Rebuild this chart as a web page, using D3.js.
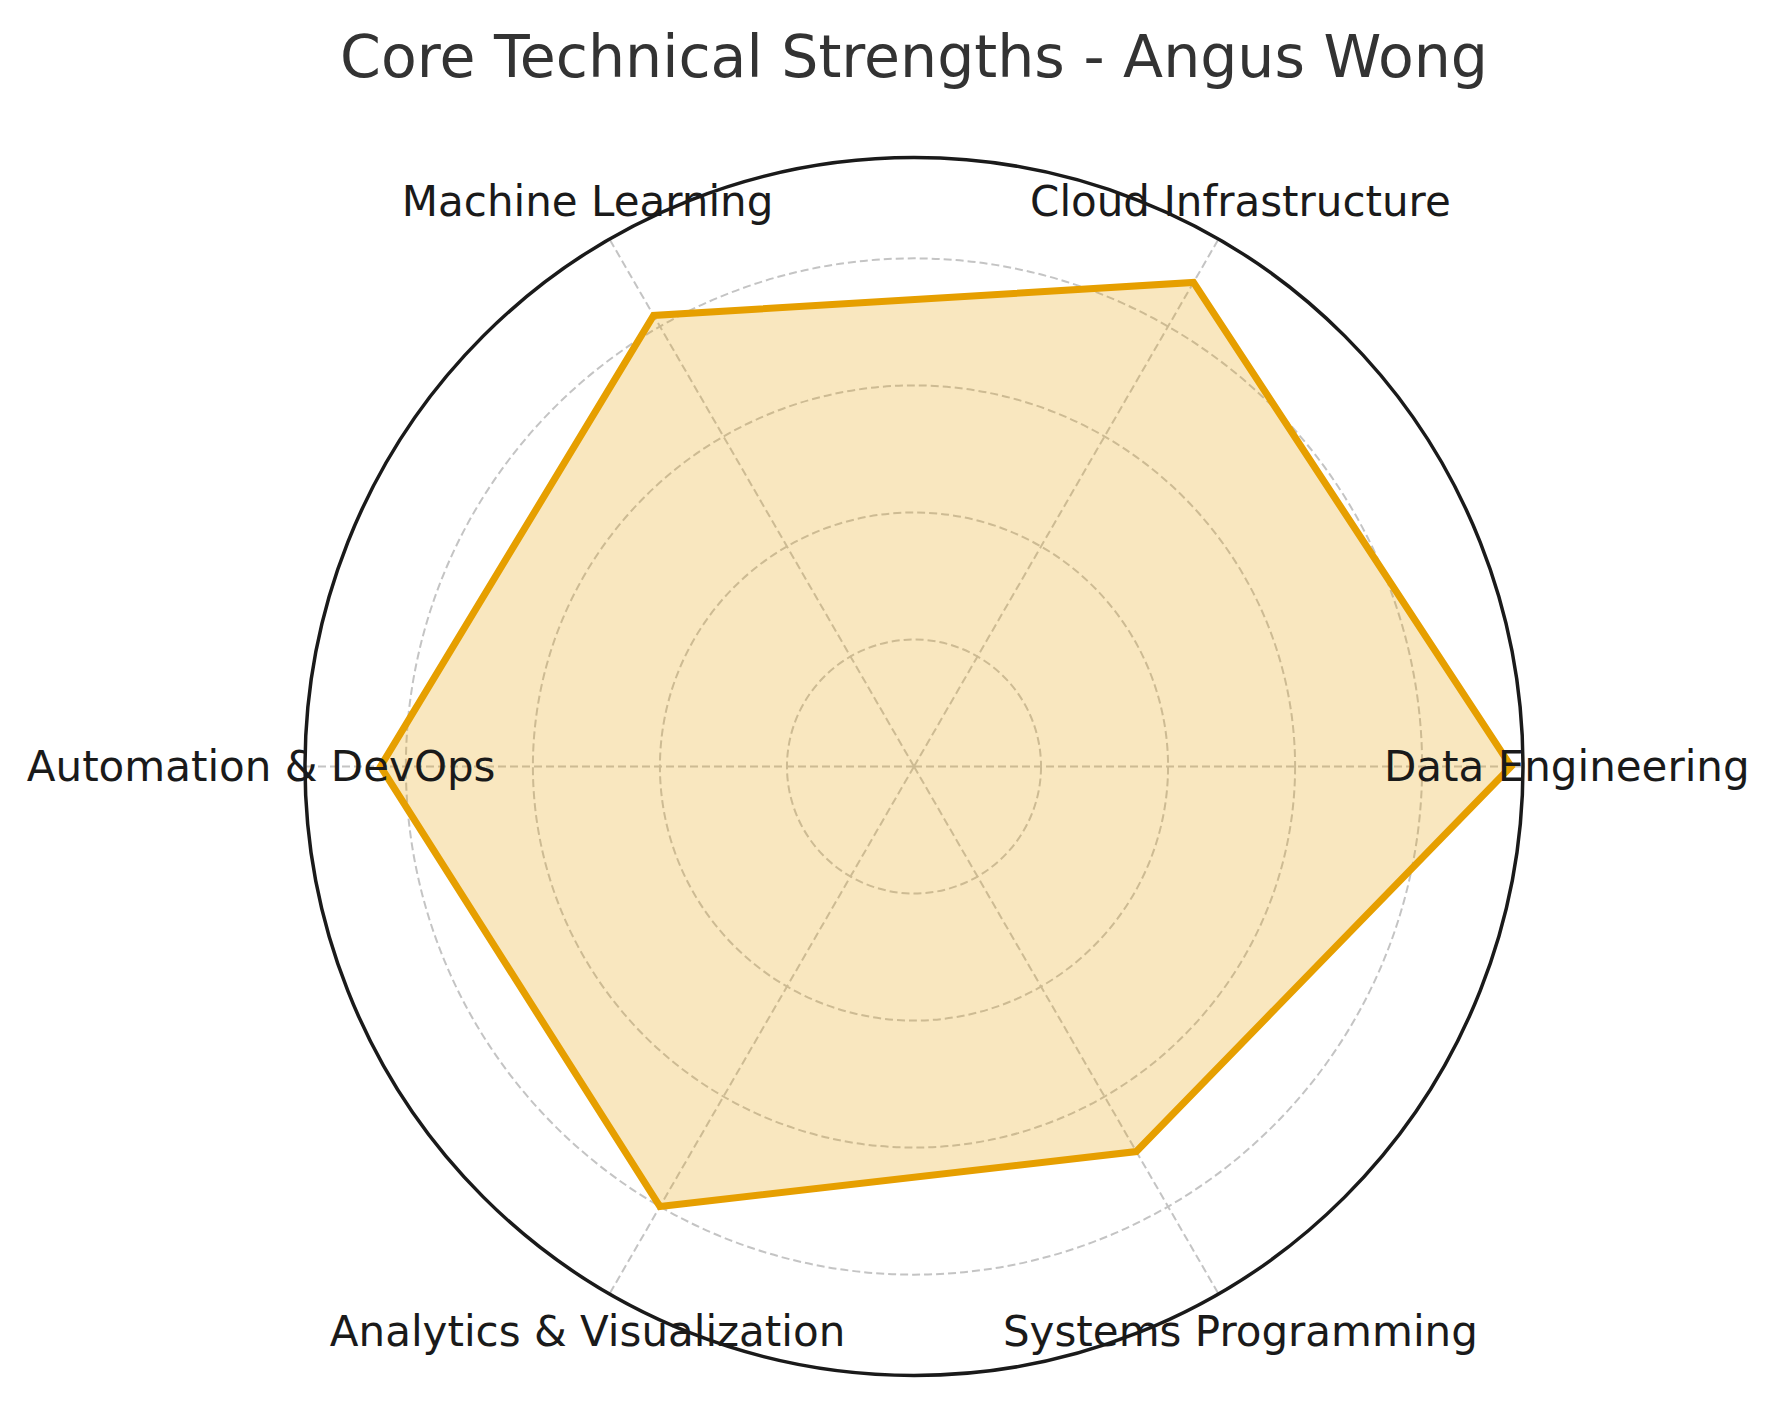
<!DOCTYPE html>
<html>
<head>
<meta charset="utf-8">
<script src="https://cdn.jsdelivr.net/npm/d3@7"></script>
<style>
html, body { margin: 0; padding: 0; background: #fff; }
svg { display: block; font-family: "DejaVu Sans", sans-serif; }
</style>
</head>
<body>
<svg id="chart" width="1778" height="1406"></svg>
<script>
const categories = ["Data Engineering", "Cloud Infrastructure", "Machine Learning", "Automation & DevOps", "Analytics & Visualization", "Systems Programming"];
const values = [4.7, 4.4, 4.1, 4.2, 4.0, 3.5];
const gridTicks = [1, 2, 3, 4];
const title = "Core Technical Strengths - Angus Wong";

const W = 1778, H = 1406;
const cx = 914, cy = 766.5, R = 609;
const rMax = d3.max(values) * 1.02;

const svg = d3.select("#chart");
const r = d3.scaleLinear().domain([0, rMax]).range([0, R]);
// angle: categories evenly spaced, counter-clockwise starting at 3 o'clock
const theta = d3.scaleLinear().domain([0, categories.length]).range([0, 2 * Math.PI]);
// lineRadial angle measured clockwise from 12 o'clock
const radialAngle = i => Math.PI / 2 - theta(i);

const g = svg.append("g").attr("transform", `translate(${cx},${cy})`);

// grid circles
g.selectAll("circle.grid").data(gridTicks).enter().append("circle")
  .attr("class", "grid")
  .attr("r", d => r(d))
  .attr("fill", "none")
  .attr("stroke", "#c4c4c4")
  .attr("stroke-width", 2)
  .attr("stroke-dasharray", "8,4");

// spokes
g.selectAll("line.spoke").data(categories).enter().append("line")
  .attr("x1", 0).attr("y1", 0)
  .attr("x2", (d, i) => R * Math.cos(theta(i)))
  .attr("y2", (d, i) => -R * Math.sin(theta(i)))
  .attr("stroke", "#c4c4c4")
  .attr("stroke-width", 2)
  .attr("stroke-dasharray", "8,4");

// data polygon
const radar = d3.lineRadial()
  .angle((d, i) => radialAngle(i))
  .radius(d => r(d))
  .curve(d3.curveLinearClosed);

g.append("path")
  .datum(values)
  .attr("d", radar)
  .attr("fill", "#E69F00")
  .attr("fill-opacity", 0.25)
  .attr("stroke", "none");

g.append("path")
  .datum(values)
  .attr("d", radar)
  .attr("fill", "none")
  .attr("stroke", "#E69F00")
  .attr("stroke-width", 7)
  .attr("stroke-linejoin", "miter");

// outer circle
g.append("circle")
  .attr("r", R)
  .attr("fill", "none")
  .attr("stroke", "#1a1a1a")
  .attr("stroke-width", 3.5);

// category labels
const labelR = R * 1.072;
g.selectAll("text.cat").data(categories).enter().append("text")
  .attr("class", "cat")
  .attr("x", (d, i) => labelR * Math.cos(theta(i)))
  .attr("y", (d, i) => -labelR * Math.sin(theta(i)))
  .attr("text-anchor", "middle")
  .attr("dominant-baseline", "central")
  .attr("font-size", 42)
  .attr("fill", "#1a1a1a")
  .text(d => d);

// title
svg.append("text")
  .attr("x", cx)
  .attr("y", 77)
  .attr("text-anchor", "middle")
  .attr("font-size", 58.5)
  .attr("fill", "#333333")
  .text(title);
</script>
</body>
</html>
